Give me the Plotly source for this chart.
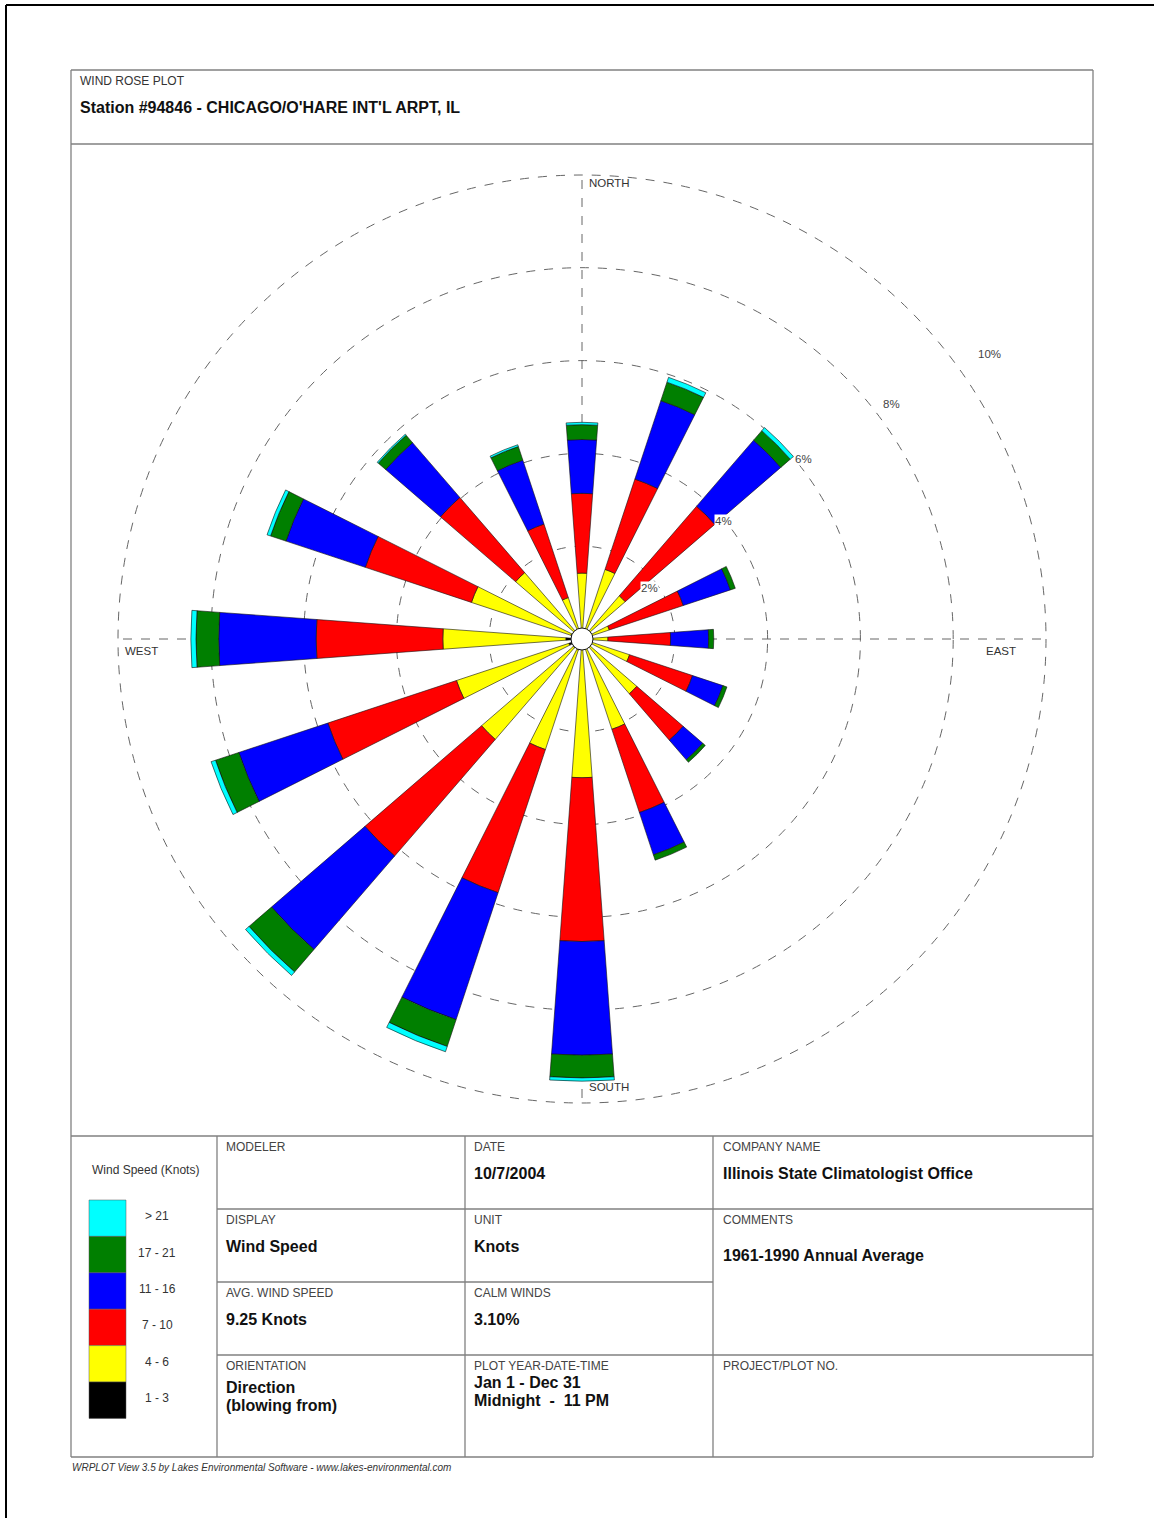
import plotly.graph_objects as go

# ---------------- data ----------------
directions = ["N", "NNE", "NE", "ENE", "E", "ESE", "SE", "SSE",
              "S", "SSW", "SW", "WSW", "W", "WNW", "NW", "NNW"]
dir_angles = [0, 22.5, 45, 67.5, 90, 112.5, 135, 157.5,
              180, 202.5, 225, 247.5, 270, 292.5, 315, 337.5]

speed_classes = ["1 - 3", "4 - 6", "7 - 10", "11 - 16", "17 - 21", "> 21"]
class_colors = ["#000000", "#FFFF00", "#FF0000", "#0000FF", "#007F00", "#00FFFF"]

# frequency (%) per direction for each wind speed class (knots)
freq_1_3 = [0.20, 0.20, 0.20, 0.20, 0.20, 0.20, 0.20, 0.20,
            0.22, 0.25, 0.25, 0.30, 0.35, 0.25, 0.20, 0.20]
freq_4_6 = [1.22, 1.38, 1.03, 0.42, 0.36, 0.88, 1.36, 1.85,
            2.77, 2.26, 2.61, 2.55, 2.65, 2.26, 1.69, 0.74]
freq_7_10 = [1.72, 2.05, 2.55, 1.68, 1.35, 1.43, 1.32, 1.89,
             3.53, 3.25, 3.32, 2.92, 2.73, 2.41, 2.14, 1.67]
freq_11_16 = [1.16, 1.78, 1.88, 1.07, 0.82, 0.69, 0.56, 0.96,
              2.45, 2.88, 2.66, 2.02, 2.10, 1.80, 1.56, 1.45]
freq_17_21 = [0.32, 0.42, 0.27, 0.11, 0.11, 0.09, 0.07, 0.12,
              0.49, 0.61, 0.64, 0.53, 0.49, 0.35, 0.21, 0.31]
freq_gt_21 = [0.05, 0.11, 0.09, 0.00, 0.00, 0.00, 0.00, 0.00,
              0.07, 0.12, 0.10, 0.10, 0.11, 0.08, 0.03, 0.04]

ring_values = [2, 4, 6, 8, 10]
ring_labels = ["2%", "4%", "6%", "8%", "10%"]
compass_labels = ["NORTH", "EAST", "SOUTH", "WEST"]

station_title = "Station #94846 - CHICAGO/O'HARE INT'L ARPT, IL"
legend_title = "Wind Speed (Knots)"
table_cells = [
    # (header, value lines, column, row)
    ("MODELER", [], 0, 0),
    ("DATE", ["10/7/2004"], 1, 0),
    ("COMPANY NAME", ["Illinois State Climatologist Office"], 2, 0),
    ("DISPLAY", ["Wind Speed"], 0, 1),
    ("UNIT", ["Knots"], 1, 1),
    ("COMMENTS", ["1961-1990 Annual Average"], 2, 1),
    ("AVG. WIND SPEED", ["9.25 Knots"], 0, 2),
    ("CALM WINDS", ["3.10%"], 1, 2),
    ("ORIENTATION", ["Direction", "(blowing from)"], 0, 3),
    ("PLOT YEAR-DATE-TIME", ["Jan 1 - Dec 31", "Midnight  -  11 PM"], 1, 3),
    ("PROJECT/PLOT NO.", [], 2, 3),
]
footer = "WRPLOT View 3.5 by Lakes Environmental Software - www.lakes-environmental.com"

# ---------------- layout helpers ----------------
W, H = 1154, 1518
FONT = "Liberation Sans, Arial, sans-serif"
GRID = "#666666"


def px(x):
    return x / W


def py(y):
    return 1 - y / H


CX, CY, R10 = 582, 639, 464  # centre of the rose and pixel radius of the 10% ring

fig = go.Figure()

series = [freq_1_3, freq_4_6, freq_7_10, freq_11_16, freq_17_21, freq_gt_21]
for name, col, vals in zip(speed_classes, class_colors, series):
    fig.add_trace(go.Barpolar(
        r=vals, theta=dir_angles, name=name, width=8.4,
        marker=dict(color=col, line=dict(color="#111111", width=0.6)),
        showlegend=False,
    ))

# calm circle at the centre
fig.add_trace(go.Scatterpolar(
    r=[0], theta=[0], mode="markers",
    marker=dict(size=22, color="white", line=dict(color="#111111", width=1)),
    showlegend=False, hoverinfo="skip",
))

fig.update_layout(
    width=W, height=H,
    margin=dict(l=0, r=0, t=0, b=0),
    paper_bgcolor="white",
    font=dict(family=FONT, color="#333333"),
    polar=dict(
        domain=dict(x=[px(CX - R10), px(CX + R10)], y=[py(CY + R10), py(CY - R10)]),
        bgcolor="white",
        barmode="stack",
        radialaxis=dict(range=[0, max(ring_values)], tickvals=ring_values, showticklabels=False,
                        ticks="", showline=False, gridcolor=GRID, griddash="dash",
                        gridwidth=1),
        angularaxis=dict(rotation=90, direction="clockwise", tickvals=[0, 90, 180, 270],
                         showticklabels=False, ticks="", showline=False,
                         gridcolor=GRID, griddash="dash", gridwidth=1),
    ),
)

shapes = []

# outermost (10%) ring, dashed like the other rings
shapes.append(dict(type="circle", xref="paper", yref="paper",
                   x0=px(CX - R10), x1=px(CX + R10), y0=py(CY + R10), y1=py(CY - R10),
                   line=dict(color=GRID, width=1, dash="dash")))


def line(x0, y0, x1, y1, color="#808080", width=1.3):
    shapes.append(dict(type="line", xref="paper", yref="paper",
                       x0=px(x0), y0=py(y0), x1=px(x1), y1=py(y1),
                       line=dict(color=color, width=width)))


# page border
line(6, 5, 1154, 5, "#000000", 2)
line(6, 5, 6, 1518, "#000000", 2)
# report frame
line(71, 70, 1093, 70)
line(71, 1457, 1093, 1457)
line(71, 70, 71, 1457)
line(1093, 70, 1093, 1457)
line(71, 144, 1093, 144)
line(71, 1136, 1093, 1136)
col_x = [217, 465, 713]
for x in col_x:
    line(x, 1136, x, 1457)
line(217, 1209, 1093, 1209)
line(217, 1282, 713, 1282)
line(217, 1355, 1093, 1355)

# legend swatches
sw_top, sw_h = 1200, 36.4
for i, col in enumerate(reversed(class_colors)):
    shapes.append(dict(type="rect", xref="paper", yref="paper",
                       x0=px(89), x1=px(126), y0=py(sw_top + (i + 1) * sw_h), y1=py(sw_top + i * sw_h),
                       fillcolor=col, line=dict(color="#555555", width=0.5)))

annotations = []


def txt(x, y, s, size=12, color="#333333", xanchor="left", bg=None):
    a = dict(x=px(x), y=py(y), xref="paper", yref="paper", text=s, showarrow=False,
             xanchor=xanchor, yanchor="middle", font=dict(size=size, color=color, family=FONT))
    if bg:
        a["bgcolor"] = bg
        a["borderpad"] = 0
    annotations.append(a)


txt(78, 81, "WIND ROSE PLOT", 12, "#333333")
txt(78, 107, "<b>" + station_title + "</b>", 16, "#111111")

# compass labels
txt(587, 183, compass_labels[0], 11.5)
txt(1018, 651, compass_labels[1], 11.5, xanchor="right")
txt(587, 1087, compass_labels[2], 11.5)
txt(123, 651, compass_labels[3], 11.5)

# ring labels
ring_label_pos = [(649.5, 587.5), (723, 520.5), (803, 458.5), (891, 403.5), (989, 354)]
for lab, (x, y) in zip(ring_labels, ring_label_pos):
    txt(x, y, lab, 11.5, "#444444", xanchor="center", bg="white")

# legend
txt(145, 1170, legend_title, 12, "#333333", xanchor="center")
for i, lab in enumerate(reversed(speed_classes)):
    txt(157, sw_top + (i + 0.5) * sw_h - 2, lab, 12, "#333333", xanchor="center")

# table
col_left = [224, 472, 721]
row_top = [1136, 1209, 1282, 1355]
for head, vals, c, r in table_cells:
    x = col_left[c]
    y0 = row_top[r]
    txt(x, y0 + 11, head, 12, "#444444")
    if len(vals) == 1:
        yv = y0 + (46 if head == "COMMENTS" else 37)
        txt(x, yv, "<b>" + vals[0] + "</b>", 16, "#111111")
    elif len(vals) == 2:
        first = 32 if head == "ORIENTATION" else 27
        for k, v in enumerate(vals):
            txt(x, y0 + first + 18 * k, "<b>" + v + "</b>", 16, "#111111")

txt(70, 1467, "<i>" + footer + "</i>", 10, "#333333")

fig.update_layout(shapes=shapes, annotations=annotations)

fig.write_html("out.html", config={"displayModeBar": False},
               post_script="document.body.style.margin='0px';")
